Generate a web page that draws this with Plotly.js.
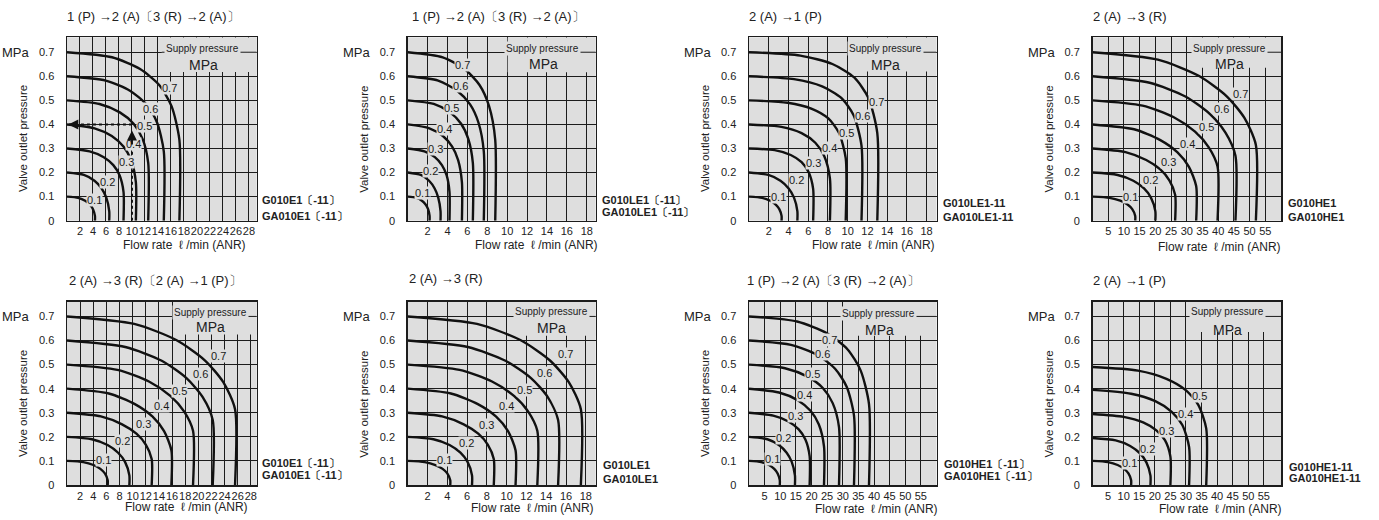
<!DOCTYPE html>
<html><head><meta charset="utf-8">
<script src="https://cdn.plot.ly/plotly-3.0.1.min.js"></script>
<style>html,body{margin:0;padding:0;background:#fff}#chart{width:1379px;height:520px}</style>
</head><body><div id="chart"></div>
<script>
// ---------- data ----------
const titles = [
  '1 (P) →2 (A)〔3 (R) →2 (A)〕',
  '1 (P) →2 (A)〔3 (R) →2 (A)〕',
  '2 (A) →1 (P)',
  '2 (A) →3 (R)',
  '2 (A) →3 (R)〔2 (A) →1 (P)〕',
  '2 (A) →3 (R)',
  '1 (P) →2 (A)〔3 (R) →2 (A)〕',
  '2 (A) →1 (P)'
];
const models = [
  ['G010E1〔-11〕', 'GA010E1〔-11〕'],
  ['G010LE1〔-11〕', 'GA010LE1〔-11〕'],
  ['G010LE1-11', 'GA010LE1-11'],
  ['G010HE1', 'GA010HE1'],
  ['G010E1〔-11〕', 'GA010E1〔-11〕'],
  ['G010LE1', 'GA010LE1'],
  ['G010HE1〔-11〕', 'GA010HE1〔-11〕'],
  ['G010HE1-11', 'GA010HE1-11']
];
const supply7 = ['0.1', '0.2', '0.3', '0.4', '0.5', '0.6', '0.7'];
const supply5 = ['0.1', '0.2', '0.3', '0.4', '0.5'];
const xTicksA = [2, 4, 6, 8, 10, 12, 14, 16, 18, 20, 22, 24, 26, 28];
const xTicksB = [2, 4, 6, 8, 10, 12, 14, 16, 18];
const xTicksC = [5, 10, 15, 20, 25, 30, 35, 40, 45, 50, 55];
const yTicks = [0, 0.1, 0.2, 0.3, 0.4, 0.5, 0.6, 0.7];
const yTickText = ['0', '0.1', '0.2', '0.3', '0.4', '0.5', '0.6', '0.7'];

// Panel 1
const flow1 = [
  [0, 1.72, 2.8, 3.53, 4.0, 4.3, 4.3],
  [0, 2.6, 4.23, 5.33, 6.05, 6.5, 6.5],
  [0, 3.48, 5.66, 7.13, 8.09, 8.7, 8.7],
  [0, 4.24, 6.89, 8.69, 9.86, 10.6, 10.6],
  [0, 5.0, 8.13, 10.25, 11.63, 12.5, 12.5],
  [0, 5.96, 9.69, 12.22, 13.86, 14.9, 14.9],
  [0, 6.92, 11.25, 14.19, 16.09, 17.3, 17.3]];
const pres1 = [
  [0.1, 0.095, 0.083, 0.067, 0.048, 0.02, 0],
  [0.2, 0.19, 0.166, 0.134, 0.096, 0.04, 0],
  [0.3, 0.288, 0.264, 0.231, 0.189, 0.12, 0],
  [0.4, 0.384, 0.352, 0.308, 0.252, 0.16, 0],
  [0.5, 0.485, 0.45, 0.403, 0.34, 0.24, 0],
  [0.6, 0.582, 0.54, 0.483, 0.408, 0.288, 0],
  [0.7, 0.679, 0.63, 0.564, 0.476, 0.336, 0]];
const labX1 = [4.3, 6.3, 9.1, 10.3, 11.9, 12.9, 15.8];
const labY1 = [0.088, 0.162, 0.245, 0.318, 0.393, 0.466, 0.553];
const dashHx = [0.3, 10], dashHy = [0.4, 0.4];
const dashVx = [10, 10], dashVy = [0, 0.31];

// Panel 2
const flow2 = [
  [0, 0.88, 1.43, 1.8, 2.05, 2.2, 2.2],
  [0, 1.32, 2.15, 2.71, 3.07, 3.3, 3.3],
  [0, 1.68, 2.73, 3.44, 3.91, 4.2, 4.2],
  [0, 2.18, 3.54, 4.47, 5.07, 5.45, 5.45],
  [0, 2.62, 4.26, 5.37, 6.09, 6.55, 6.55],
  [0, 3.06, 4.97, 6.27, 7.11, 7.65, 7.65],
  [0, 3.52, 5.72, 7.22, 8.18, 8.8, 8.8]];
const pres2 = [
  [0.1, 0.095, 0.083, 0.067, 0.048, 0.02, 0],
  [0.2, 0.19, 0.166, 0.134, 0.096, 0.04, 0],
  [0.3, 0.288, 0.264, 0.231, 0.189, 0.12, 0],
  [0.4, 0.384, 0.352, 0.308, 0.252, 0.16, 0],
  [0.5, 0.485, 0.45, 0.403, 0.34, 0.24, 0],
  [0.6, 0.582, 0.54, 0.483, 0.408, 0.288, 0],
  [0.7, 0.679, 0.63, 0.564, 0.476, 0.336, 0]];
const labX2 = [1.5, 2.3, 2.8, 3.65, 4.44, 5.29, 5.53];
const labY2 = [0.115, 0.205, 0.296, 0.383, 0.47, 0.558, 0.645];

// Panel 3
const flow3 = [
  [0, 1.32, 2.15, 2.71, 3.07, 3.3, 3.3],
  [0, 1.96, 3.19, 4.02, 4.56, 4.9, 4.9],
  [0, 2.6, 4.23, 5.33, 6.05, 6.5, 6.5],
  [0, 3.28, 5.33, 6.72, 7.63, 8.2, 8.2],
  [0, 3.92, 6.37, 8.04, 9.11, 9.8, 9.8],
  [0, 4.56, 7.41, 9.35, 10.6, 11.4, 11.4],
  [0, 5.2, 8.45, 10.66, 12.09, 13.0, 13.0]];
const pres3 = [
  [0.1, 0.095, 0.083, 0.067, 0.048, 0.02, 0],
  [0.2, 0.19, 0.166, 0.134, 0.096, 0.04, 0],
  [0.3, 0.293, 0.273, 0.243, 0.201, 0.132, 0],
  [0.4, 0.39, 0.364, 0.324, 0.268, 0.176, 0],
  [0.5, 0.49, 0.465, 0.425, 0.365, 0.26, 0],
  [0.6, 0.588, 0.558, 0.51, 0.438, 0.312, 0],
  [0.7, 0.686, 0.651, 0.595, 0.511, 0.364, 0]];
const labX3 = [3.0, 4.85, 6.5, 8.2, 9.9, 11.5, 12.87];
const labY3 = [0.1, 0.169, 0.239, 0.304, 0.363, 0.433, 0.495];

// Panel 4
const flow4 = [
  [0, 5.44, 8.84, 11.15, 12.65, 13.6, 13.6],
  [0, 8, 13, 16.4, 18.6, 20, 20],
  [0, 10.52, 17.1, 21.57, 24.46, 26.3, 26.3],
  [0, 13.2, 21.45, 27.06, 30.69, 33, 33],
  [0, 15.92, 25.87, 32.64, 37.01, 39.8, 39.8],
  [0, 18.2, 29.58, 37.31, 42.32, 45.5, 45.5],
  [0, 20.8, 33.8, 42.64, 48.36, 52, 52]];
const pres4 = [
  [0.1, 0.095, 0.083, 0.067, 0.048, 0.02, 0],
  [0.2, 0.19, 0.166, 0.134, 0.096, 0.04, 0],
  [0.3, 0.285, 0.252, 0.213, 0.168, 0.108, 0],
  [0.4, 0.38, 0.336, 0.284, 0.224, 0.144, 0],
  [0.5, 0.478, 0.43, 0.37, 0.305, 0.225, 0],
  [0.6, 0.573, 0.516, 0.444, 0.366, 0.27, 0],
  [0.7, 0.669, 0.602, 0.518, 0.427, 0.315, 0]];
const labX4 = [12.2, 18.5, 24.3, 30.1, 36.2, 41.2, 47.0];
const labY4 = [0.097, 0.168, 0.244, 0.318, 0.39, 0.465, 0.525];

// Panel 5
const flow5 = [
  [0, 2.48, 4.03, 5.08, 5.77, 6.2, 6.2],
  [0, 3.8, 6.18, 7.79, 8.84, 9.5, 9.5],
  [0, 5.16, 8.39, 10.58, 12.0, 12.9, 12.9],
  [0, 6.36, 10.34, 13.04, 14.79, 15.9, 15.9],
  [0, 7.68, 12.48, 15.74, 17.86, 19.2, 19.2],
  [0, 8.88, 14.43, 18.2, 20.65, 22.2, 22.2],
  [0, 10.24, 16.64, 20.99, 23.81, 25.6, 25.6]];
const pres5 = [
  [0.1, 0.095, 0.083, 0.067, 0.048, 0.02, 0],
  [0.2, 0.19, 0.166, 0.134, 0.096, 0.04, 0],
  [0.3, 0.285, 0.252, 0.213, 0.168, 0.108, 0],
  [0.4, 0.38, 0.336, 0.284, 0.224, 0.144, 0],
  [0.5, 0.478, 0.43, 0.37, 0.305, 0.225, 0],
  [0.6, 0.573, 0.516, 0.444, 0.366, 0.27, 0],
  [0.7, 0.669, 0.602, 0.518, 0.427, 0.315, 0]];
const labX5 = [5.5, 8.5, 11.6, 14.4, 17.2, 20.3, 23.1];
const labY5 = [0.105, 0.181, 0.254, 0.328, 0.39, 0.463, 0.537];

// Panel 6
const flow6 = [
  [0, 1.72, 2.8, 3.53, 4.0, 4.3, 4.3],
  [0, 2.6, 4.23, 5.33, 6.05, 6.5, 6.5],
  [0, 3.48, 5.66, 7.13, 8.09, 8.7, 8.7],
  [0, 4.36, 7.09, 8.94, 10.14, 10.9, 10.9],
  [0, 5.24, 8.52, 10.74, 12.18, 13.1, 13.1],
  [0, 6.08, 9.88, 12.46, 14.14, 15.2, 15.2],
  [0, 7.0, 11.38, 14.35, 16.28, 17.5, 17.5]];
const pres6 = [
  [0.1, 0.095, 0.083, 0.067, 0.048, 0.02, 0],
  [0.2, 0.19, 0.166, 0.134, 0.096, 0.04, 0],
  [0.3, 0.285, 0.252, 0.213, 0.168, 0.108, 0],
  [0.4, 0.38, 0.336, 0.284, 0.224, 0.144, 0],
  [0.5, 0.478, 0.43, 0.37, 0.305, 0.225, 0],
  [0.6, 0.573, 0.516, 0.444, 0.366, 0.27, 0],
  [0.7, 0.669, 0.602, 0.518, 0.427, 0.315, 0]];
const labX6 = [3.7, 5.9, 7.94, 9.97, 11.8, 13.85, 15.9];
const labY6 = [0.104, 0.176, 0.25, 0.326, 0.396, 0.465, 0.542];

// Panel 7
const flow7 = [
  [0, 3.94, 6.4, 8.08, 9.16, 9.85, 9.85],
  [0, 5.88, 9.56, 12.05, 13.67, 14.7, 14.7],
  [0, 7.76, 12.61, 15.91, 18.04, 19.4, 19.4],
  [0, 9.6, 15.6, 19.68, 22.32, 24, 24],
  [0, 11.52, 18.72, 23.62, 26.78, 28.8, 28.8],
  [0, 13.44, 21.84, 27.55, 31.25, 33.6, 33.6],
  [0, 15.36, 24.96, 31.49, 35.71, 38.4, 38.4]];
const pres7 = [
  [0.1, 0.095, 0.083, 0.067, 0.048, 0.02, 0],
  [0.2, 0.19, 0.166, 0.134, 0.096, 0.04, 0],
  [0.3, 0.288, 0.264, 0.231, 0.189, 0.12, 0],
  [0.4, 0.384, 0.352, 0.308, 0.252, 0.16, 0],
  [0.5, 0.485, 0.45, 0.403, 0.34, 0.24, 0],
  [0.6, 0.582, 0.54, 0.483, 0.408, 0.288, 0],
  [0.7, 0.679, 0.63, 0.564, 0.476, 0.336, 0]];
const labX7 = [7.6, 10.9, 14.9, 17.6, 20.4, 23.4, 25.6];
const labY7 = [0.107, 0.197, 0.286, 0.372, 0.459, 0.546, 0.603];

// Panel 8
const flow8 = [
  [0, 4.96, 8.06, 10.17, 11.53, 12.4, 12.4],
  [0, 7.44, 12.09, 15.25, 17.3, 18.6, 18.6],
  [0, 10, 16.25, 20.5, 23.25, 25, 25],
  [0, 12.4, 20.15, 25.42, 28.83, 31, 31],
  [0, 14.6, 23.73, 29.93, 33.95, 36.5, 36.5]];
const pres8 = [
  [0.1, 0.095, 0.083, 0.067, 0.048, 0.02, 0],
  [0.195, 0.185, 0.162, 0.131, 0.094, 0.039, 0],
  [0.295, 0.283, 0.26, 0.227, 0.186, 0.118, 0],
  [0.395, 0.379, 0.348, 0.304, 0.249, 0.158, 0],
  [0.49, 0.475, 0.441, 0.394, 0.333, 0.235, 0]];
const labX8 = [11.9, 17.8, 23.7, 29.7, 34.5];
const labY8 = [0.09, 0.148, 0.226, 0.295, 0.37];

// ---------- layout helpers ----------
const W = 1379, H = 520;
const FONT = 'Liberation Sans, Arial, Helvetica, sans-serif';
const BG = '#dedede';
const INK = '#1c1c1c';
const YMAX = 0.762;
const cols = [[67, 256.7], [407.7, 595.7], [749, 936.5], [1092.5, 1281]];
const rows = [[37.3, 220.7], [301.5, 485]];

const panels = [
  {c:0, r:0, xmax:29.2, ticks:xTicksA, flow:flow1, pres:pres1, lx:labX1, ly:labY1, names:supply7,
   title:[65,17], flowT:[184,245], models:[259.5,200,216], mask:[14.6,0.618], sup:[20.9,0.716], mpa:[21.0,0.648]},
  {c:1, r:0, xmax:18.9, ticks:xTicksB, flow:flow2, pres:pres2, lx:labX2, ly:labY2, names:supply7,
   title:[410,17], flowT:[536.5,245], models:[600,200,212], mask:[10.05,0.617], sup:[13.6,0.714], mpa:[13.65,0.652]},
  {c:2, r:0, xmax:19.0, ticks:xTicksB, flow:flow3, pres:pres3, lx:labX3, ly:labY3, names:supply7,
   title:[746.7,17], flowT:[873,245], models:[940.7,203,217], mask:[10.05,0.62], sup:[13.8,0.717], mpa:[13.8,0.648]},
  {c:3, r:0, xmax:60, ticks:xTicksC, flow:flow4, pres:pres4, lx:labX4, ly:labY4, names:supply7,
   title:[1091,17], flowT:[1219.5,247], models:[1285.7,203,217], mask:[31.7,0.635], sup:[43.5,0.714], mpa:[43.5,0.652]},
  {c:0, r:1, xmax:28.9, ticks:xTicksA, flow:flow5, pres:pres5, lx:labX5, ly:labY5, names:supply7,
   title:[67,280.7], flowT:[186,506.7], models:[260,462.7,475], mask:[16.2,0.625], sup:[21.8,0.718], mpa:[21.8,0.656]},
  {c:1, r:1, xmax:19.0, ticks:xTicksB, flow:flow6, pres:pres6, lx:labX6, ly:labY6, names:supply7,
   title:[406.7,278], flowT:[532.5,508], models:[601,465,479], mask:[10.8,0.62], sup:[14.5,0.722], mpa:[14.5,0.653]},
  {c:2, r:1, xmax:60, ticks:xTicksC, flow:flow7, pres:pres7, lx:labX7, ly:labY7, names:supply7,
   title:[745,280], flowT:[876.7,509], models:[941.7,464,476], mask:[31,0.62], sup:[41.4,0.714], mpa:[41.6,0.645]},
  {c:3, r:1, xmax:60.5, ticks:xTicksC, flow:flow8, pres:pres8, lx:labX8, ly:labY8, names:supply5,
   title:[1090.7,280], flowT:[1220.7,509], models:[1287.3,466.7,478.3], mask:[31.3,0.635], sup:[43.4,0.721], mpa:[43.4,0.645]}
];

const traces = [];
const annotations = [];
const shapes = [];
const layout = {
  width: W, height: H, margin: {l:0, r:0, t:0, b:0},
  paper_bgcolor: '#ffffff', plot_bgcolor: BG, showlegend: false,
  font: {family: FONT, color: INK}
};

panels.forEach((p, i) => {
  const n = i + 1;
  const xa = n === 1 ? 'x' : 'x' + n;
  const ya = n === 1 ? 'y' : 'y' + n;
  const xk = n === 1 ? 'xaxis' : 'xaxis' + n;
  const yk = n === 1 ? 'yaxis' : 'yaxis' + n;
  const [cl, cr] = cols[p.c];
  const [rt, rb] = rows[p.r];
  layout[xk] = {
    domain: [cl / W, cr / W], anchor: ya, range: [0, p.xmax],
    tickmode: 'array', tickvals: p.ticks, ticktext: p.ticks.map(String), tickangle: 0,
    showgrid: true, gridcolor: INK, gridwidth: 1, zeroline: false,
    showline: true, mirror: true, linecolor: INK, linewidth: 1.5,
    ticks: '', tickfont: {size: 11, family: FONT, color: '#222'}, fixedrange: true
  };
  layout[yk] = {
    domain: [1 - rb / H, 1 - rt / H], anchor: xa, range: [0, YMAX],
    tickmode: 'array', tickvals: yTicks, ticktext: yTickText,
    showgrid: true, gridcolor: INK, gridwidth: 1, zeroline: false,
    showline: true, mirror: true, linecolor: INK, linewidth: 1.5,
    ticks: 'outside', ticklen: 9, tickcolor: 'rgba(0,0,0,0)',
    tickfont: {size: 11, family: FONT, color: '#222'}, fixedrange: true
  };

  // mask box behind "Supply pressure"
  shapes.push({type:'rect', layer:'between', xref:xa, yref:ya,
    x0:p.mask[0], x1:p.xmax, y0:p.mask[1], y1:YMAX,
    fillcolor:BG, line:{width:0}});
  shapes.push({type:'line', layer:'between', xref:xa, yref:ya,
    x0:p.mask[0], x1:p.xmax, y0:0.7, y1:0.7, line:{color:INK, width:1}});

  // curves
  p.flow.forEach((fx, j) => {
    traces.push({type:'scatter', mode:'lines', x: fx, y: p.pres[j], xaxis: xa, yaxis: ya,
      name: p.names[j] + ' MPa',
      line: {color:'#111', width:2.4, shape:'spline', smoothing:0.7},
      hoverinfo:'skip', showlegend:false});
    annotations.push({xref:xa, yref:ya, x:p.lx[j], y:p.ly[j], text:p.names[j], showarrow:false,
      font:{size:11, family:FONT, color:'#1a1a1a'}, bgcolor:BG, borderpad:0});
  });

  // supply pressure label
  annotations.push({xref:xa, yref:ya, x:p.sup[0], y:p.sup[1], text:'Supply pressure', showarrow:false,
    font:{size:10, family:'Liberation Sans Narrow, Liberation Sans, Arial, sans-serif', color:'#222'},
    bgcolor:BG, borderpad:1});
  annotations.push({xref:xa, yref:ya, x:p.mpa[0], y:p.mpa[1], text:'MPa', showarrow:false,
    font:{size:14, family:FONT, color:'#222'}});

  // paper texts
  const y07 = rt + (YMAX - 0.7) / YMAX * (rb - rt);
  annotations.push({xref:'paper', yref:'paper', x:p.title[0] / W, y:1 - p.title[1] / H,
    xanchor:'left', yanchor:'middle', text:titles[i], showarrow:false,
    font:{size:13, family:FONT, color:'#222'}});
  annotations.push({xref:'paper', yref:'paper', x:(cl - 35) / W, y:1 - y07 / H,
    xanchor:'right', yanchor:'middle', text:'MPa', showarrow:false,
    font:{size:13, family:FONT, color:'#222'}});
  annotations.push({xref:'paper', yref:'paper', x:(cl - 44) / W, y:1 - (p.r === 0 ? 139 : 404) / H,
    xanchor:'center', yanchor:'middle', textangle:-90, text:'Valve outlet pressure', showarrow:false,
    font:{size:11.5, family:FONT, color:'#222'}});
  annotations.push({xref:'paper', yref:'paper', x:p.flowT[0] / W, y:1 - p.flowT[1] / H,
    xanchor:'center', yanchor:'middle', text:'Flow rate  ℓ /min (ANR)', showarrow:false,
    font:{size:12, family:FONT, color:'#222'}});
  annotations.push({xref:'paper', yref:'paper', x:p.models[0] / W, y:1 - p.models[1] / H,
    xanchor:'left', yanchor:'middle', text:'<b>' + models[i][0] + '</b>', showarrow:false,
    font:{size:11, family:FONT, color:'#222'}});
  annotations.push({xref:'paper', yref:'paper', x:p.models[0] / W, y:1 - p.models[2] / H,
    xanchor:'left', yanchor:'middle', text:'<b>' + models[i][1] + '</b>', showarrow:false,
    font:{size:11, family:FONT, color:'#222'}});
});

// dashed reading example in panel 1
traces.push({type:'scatter', mode:'lines', x:dashHx, y:dashHy, xaxis:'x', yaxis:'y',
  line:{color:'#111', width:2, dash:'3px,3px'}, hoverinfo:'skip', showlegend:false});
traces.push({type:'scatter', mode:'lines', x:dashVx, y:dashVy, xaxis:'x', yaxis:'y',
  line:{color:'#111', width:2, dash:'3px,3px'}, hoverinfo:'skip', showlegend:false});
annotations.push({xref:'x', yref:'y', axref:'x', ayref:'y', x:10, y:0.375, ax:10, ay:0.31,
  text:'', showarrow:true, arrowhead:2, arrowsize:1, arrowwidth:2, arrowcolor:'#111'});
annotations.push({xref:'x', yref:'y', axref:'x', ayref:'y', x:0.2, y:0.4, ax:1.6, ay:0.4,
  text:'', showarrow:true, arrowhead:2, arrowsize:1, arrowwidth:2, arrowcolor:'#111'});

layout.annotations = annotations;
layout.shapes = shapes;

Plotly.newPlot('chart', traces, layout, {staticPlot:true, displayModeBar:false});
</script>
</body></html>
